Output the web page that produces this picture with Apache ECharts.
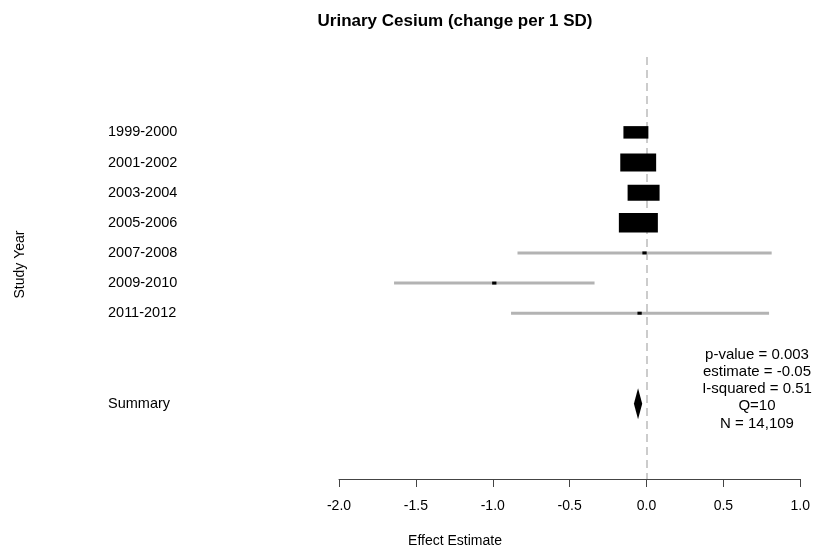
<!DOCTYPE html>
<html>
<head>
<meta charset="utf-8">
<script src="https://cdn.jsdelivr.net/npm/echarts@6/dist/echarts.min.js"></script>
<style>html,body{margin:0;padding:0;background:#fff;}#c{width:813px;height:545px;}</style>
</head>
<body>
<div id="c"></div>
<script>
// ---- data ----
const studies   = ['1999-2000','2001-2002','2003-2004','2005-2006','2007-2008','2009-2010','2011-2012'];
const estimates = [-0.069, -0.054, -0.019, -0.053, -0.013, -0.99, -0.045];
const lowerCI   = [-0.12, -0.11, -0.07, -0.11, -0.839, -1.642, -0.881];
const upperCI   = [-0.02, 0.00, 0.03, 0.00, 0.814, -0.338, 0.797];
const weights   = [0.64, 0.92, 0.82, 1.0, 0.11, 0.11, 0.11];
const summaryLabel = 'Summary';
const summaryEst = -0.055, summaryLo = -0.082, summaryHi = -0.028;
const statsLines = ['p-value = 0.003', 'estimate = -0.05', 'I-squared = 0.51', 'Q=10', 'N = 14,109'];
const xTicks = [-2.0, -1.5, -1.0, -0.5, 0.0, 0.5, 1.0];

const rowOf = {};
studies.forEach((s, i) => rowOf[i + 1] = s);
const summaryRow = 10;
rowOf[summaryRow] = summaryLabel;

const ciData = studies.map((s, i) => [lowerCI[i], upperCI[i], i + 1]);
const boxData = studies.map((s, i) => [estimates[i], i + 1, weights[i]]);
const sumData = [[summaryEst, summaryLo, summaryHi, summaryRow]];

const chart = echarts.init(document.getElementById('c'));
const FONT = 'Liberation Sans, Arial, sans-serif';
chart.setOption({
  animation: false,
  backgroundColor: '#fff',
  textStyle: { fontFamily: FONT },
  title: [
    { text: 'Urinary Cesium (change per 1 SD)', left: 455, top: 13, textAlign: 'center', padding: 0,
      textStyle: { fontSize: 17, fontWeight: 'bold', color: '#000', fontFamily: FONT } },
    { text: 'Effect Estimate', left: 455, top: 534, textAlign: 'center', padding: 0,
      textStyle: { fontSize: 14, fontWeight: 'normal', color: '#000', fontFamily: FONT } }
  ],
  grid: { left: 339, right: 11, top: 57, bottom: 66, containLabel: false },
  xAxis: {
    type: 'value', min: xTicks[0], max: xTicks[xTicks.length - 1], interval: 0.5,
    axisLine: { show: true, onZero: false, lineStyle: { color: '#444', width: 1 } },
    axisTick: { show: true, length: 8, lineStyle: { color: '#444' } },
    axisLabel: { fontSize: 14, color: '#000', margin: 20, formatter: v => v.toFixed(1), fontFamily: FONT },
    splitLine: { show: false }
  },
  yAxis: {
    type: 'value', inverse: true, min: -1.5, max: 12.5, interval: 0.5,
    name: 'Study Year', nameLocation: 'middle', nameRotate: 90, nameGap: 312,
    nameTextStyle: { fontSize: 14, color: '#000', fontFamily: FONT, padding: [0, 0, 0, 7] },
    axisLine: { show: false }, axisTick: { show: false }, splitLine: { show: false },
    axisLabel: {
      fontSize: 14.5, color: '#000', align: 'left', margin: 231, fontFamily: FONT,
      padding: [4, 0, 0, 0],
      formatter: v => (Number.isInteger(v) && rowOf[v]) ? rowOf[v] : ''
    }
  },
  graphic: [{
    type: 'text', x: 757, y: 346,
    style: { text: statsLines.join('\n'), textAlign: 'center', font: '15px ' + FONT,
      lineHeight: 17.2, fill: '#000' }
  }],
  series: [
    {
      type: 'custom', name: 'zero', silent: true, z: 1,
      data: [],
      renderItem: () => null,
      markLine: {
        silent: true, symbol: 'none', label: { show: false }, z: 1,
        lineStyle: { color: '#cccccc', type: [8, 5], width: 2 },
        data: [{ xAxis: 0 }]
      }
    },
    {
      type: 'custom', name: 'ci', silent: true, z: 4,
      data: ciData,
      renderItem: (params, api) => {
        const a = api.coord([api.value(0), api.value(2)]);
        const b = api.coord([api.value(1), api.value(2)]);
        return { type: 'line', shape: { x1: a[0], y1: a[1], x2: b[0], y2: b[1] },
          style: { stroke: '#b3b3b3', lineWidth: 3 } };
      }
    },
    {
      type: 'custom', name: 'box', silent: true, z: 5,
      data: boxData,
      renderItem: (params, api) => {
        const c = api.coord([api.value(0), api.value(1)]);
        const w = api.value(2) * 39;
        const h = Math.max(w / 2, 3);
        return { type: 'rect', shape: { x: c[0] - w / 2, y: c[1] - h / 2, width: w, height: h },
          style: { fill: '#000' } };
      }
    },
    {
      type: 'custom', name: 'summary', silent: true, z: 5,
      data: sumData,
      renderItem: (params, api) => {
        const m = api.coord([api.value(0), api.value(3)]);
        const l = api.coord([api.value(1), api.value(3)]);
        const r = api.coord([api.value(2), api.value(3)]);
        const hh = 15.5;
        return { type: 'polygon',
          shape: { points: [[l[0], m[1]], [m[0], m[1] - hh], [r[0], m[1]], [m[0], m[1] + hh]] },
          style: { fill: '#000' } };
      }
    }
  ]
});
</script>
</body>
</html>
